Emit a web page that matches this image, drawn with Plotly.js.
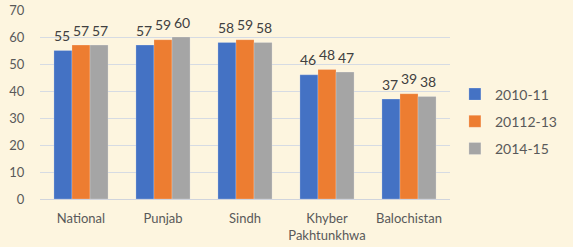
<!DOCTYPE html>
<html><head><meta charset="utf-8">
<script src="https://cdn.plot.ly/plotly-3.0.1.min.js"></script>
<style>html,body{margin:0;padding:0;background:#fdf5df;}</style>
</head><body>
<div id="chart" style="width:573px;height:247px;"></div>
<script>
const categories = ["National", "Punjab", "Sindh", "Khyber<br>Pakhtunkhwa", "Balochistan"];
const seriesNames = ["2010-11", "20112-13", "2014-15"];
const s2010 = [55, 57, 58, 46, 37];
const s2012 = [57, 59, 59, 48, 39];
const s2014 = [57, 60, 58, 47, 38];
const yTicks = [0, 10, 20, 30, 40, 50, 60, 70];

const colors = ["#4472c4", "#ed7d31", "#a5a5a5"];
const allSeries = [s2010, s2012, s2014];
const font = "Lato, 'Open Sans', sans-serif";
const txt = "#595959";

const traces = allSeries.map((vals, i) => ({
  type: "bar", x: categories, y: vals, name: seriesNames[i],
  legendgroup: "g" + i,
  marker: {color: colors[i], line: {color: "rgba(255,255,255,0.35)", width: 0.6}},
  hoverinfo: "none"
}));

const annotations = [];
const offsets = [-19, 0, 19];
allSeries.forEach((vals, i) => {
  vals.forEach((v, j) => {
    annotations.push({
      x: categories[j], y: v, xref: "x", yref: "y", text: String(v),
      showarrow: false, xshift: offsets[i], yshift: 15,
      font: {family: font, size: 14, color: "#404040"}
    });
  });
});

const layout = {
  width: 573, height: 247,
  margin: {l: 40, r: 103, t: 10, b: 48},
  paper_bgcolor: "#fdf5df", plot_bgcolor: "#fdf5df",
  barmode: "group", bargap: 0.34, bargroupgap: 0,
  font: {family: font, size: 13, color: txt},
  xaxis: {
    type: "category", showgrid: false, zeroline: false, showline: false,
    ticks: "outside", ticklen: 7, tickcolor: "rgba(0,0,0,0)",
    tickfont: {family: font, size: 13, color: txt}, fixedrange: true
  },
  yaxis: {
    range: [0, 70], tickvals: yTicks, showgrid: true, gridcolor: "#d6dbe3", gridwidth: 1,
    zeroline: true, zerolinecolor: "#d0d4dc", zerolinewidth: 1,
    ticks: "outside", ticklen: 12, tickcolor: "rgba(0,0,0,0)",
    tickfont: {family: font, size: 13, color: txt}, fixedrange: true
  },
  legend: {
    x: 1.012, xanchor: "left", y: 0.41, yanchor: "middle",
    bgcolor: "rgba(0,0,0,0)", font: {family: font, size: 14, color: txt},
    tracegroupgap: 6, itemclick: false
  },
  annotations: annotations,
  showlegend: true
};

Plotly.newPlot("chart", traces, layout, {displayModeBar: false, staticPlot: true});
</script>
</body></html>
